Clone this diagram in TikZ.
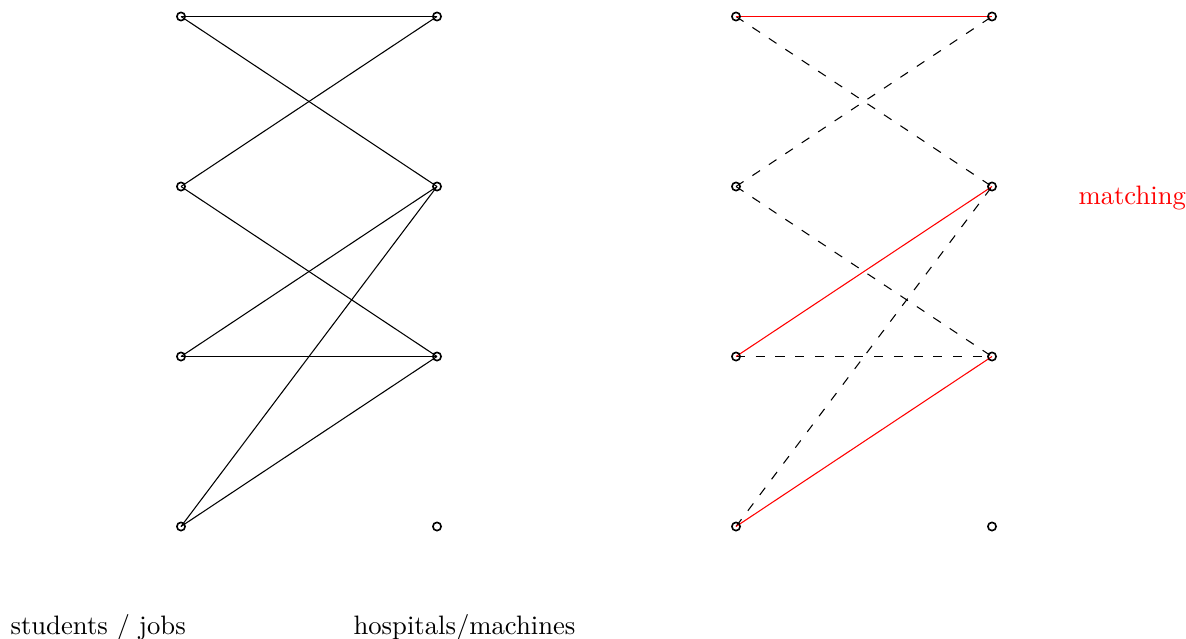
\documentclass[tikz,border=0pt]{standalone}
\begin{document}
\begin{tikzpicture}[x=0.375pt,y=-0.375pt,
  vtx/.style={circle,draw,line width=0.6pt,inner sep=0pt,minimum size=3.1pt},
  edge/.style={line width=0.4pt},
  dsh/.style={line width=0.4pt,dash pattern=on 3.4pt off 4pt},
  red edge/.style={line width=0.4pt,red}]
\useasboundingbox (0,0) rectangle (1186,639);
\foreach \i/\y in {1/16.5,2/186.5,3/356.5,4/526.5}{
  \coordinate (a\i) at (181,\y);
  \coordinate (b\i) at (437,\y);
  \coordinate (c\i) at (736,\y);
  \coordinate (d\i) at (992,\y);
}
% left graph
\draw[edge] (a1) -- (b1);
\draw[edge] (a1) -- (b2);
\draw[edge] (a2) -- (b1);
\draw[edge] (a2) -- (b3);
\draw[edge] (a3) -- (b2);
\draw[edge] (a3) -- (b3);
\draw[edge] (a4) -- (b2);
\draw[edge] (a4) -- (b3);
% right graph
\draw[dsh] (c1) -- (d2);
\draw[dsh] (c2) -- (d1);
\draw[dsh] (c2) -- (d3);
\draw[dsh] (c3) -- (d3);
\draw[dsh] (c4) -- (d2);
\draw[red edge] (c1) -- (d1);
\draw[red edge] (c3) -- (d2);
\draw[red edge] (c4) -- (d3);
\foreach \i in {1,2,3,4}{
  \node[vtx] (na\i) at (a\i) {};
  \node[vtx] (nb\i) at (b\i) {};
  \node[vtx] (nc\i) at (c\i) {};
  \node[vtx] (nd\i) at (d\i) {};
}
\node[anchor=base west,inner sep=0pt] (lab1) at (10,634) {students / jobs};
\node[anchor=base west,inner sep=0pt] (lab2) at (353,634) {hospitals/machines};
\node[anchor=base west,inner sep=0pt,text=red] (lab3) at (1078,204) {matching};
\end{tikzpicture}
\end{document}
